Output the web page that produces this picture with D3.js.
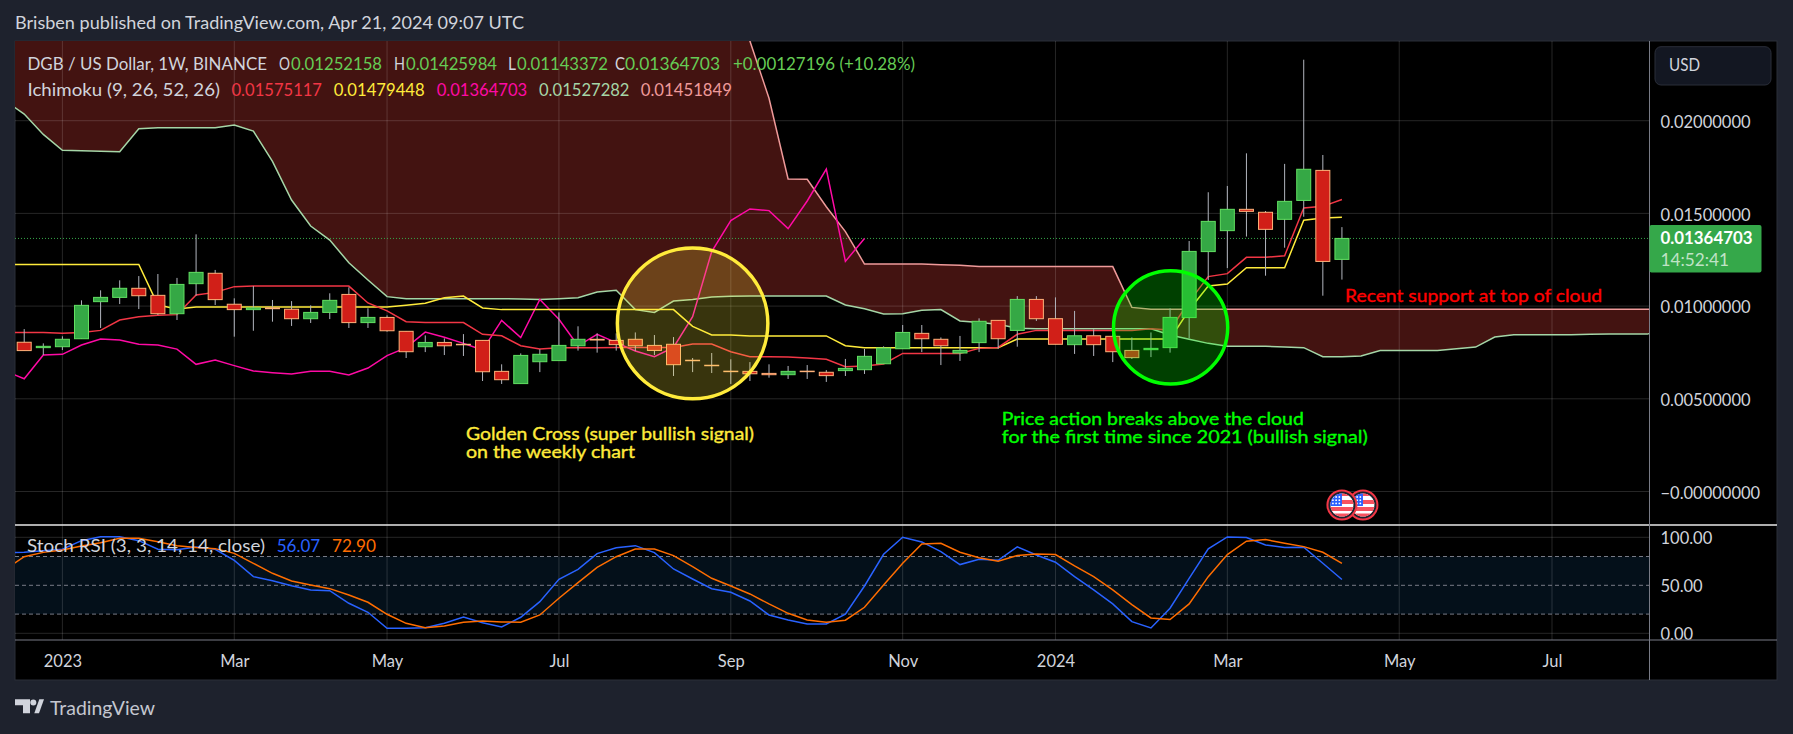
<!DOCTYPE html>
<html>
<head>
<meta charset="utf-8">
<script src="https://cdn.jsdelivr.net/npm/d3@7"></script>
<style>
  html, body { margin: 0; padding: 0; background: #1e222d; overflow: hidden; }
  text { font-family: "Lato", "Noto Sans", sans-serif; }
</style>
</head>
<body>
<script>
// All prices are in units of 0.00001 USD. Candles start at week -2,
// week 0 being the first week of 2023.
var firstCandleWeek = -2;
var opens = [805,776,781,824,1024,1047,1096,1058,959,1121,
  1177,1010,981,990,983,932,966,1063,911,939,
  864,781,804,794,815,648,582,700,706,786,
  821,815,821,788,794,708,681,649,648,637,
  630,649,643,652,657,689,770,853,821,747,
  803,923,869,1036,932,792,840,837,761,765,
  776,938,1294,1407,1522,1506,1468,1570,1732,1252];
var highs = [876,799,837,1031,1085,1139,1162,1173,1152,1387,
  1195,1042,1108,1033,1027,1004,1069,1101,988,950,
  864,842,826,849,815,686,745,767,966,891,
  853,853,858,844,833,720,747,713,698,686,
  677,682,655,715,769,783,898,898,831,839,
  934,923,1054,1054,1047,974,875,853,831,858,
  988,1351,1614,1648,1824,1513,1767,2329,1815,1426];
var lows = [760,736,763,824,882,1011,984,952,925,1056,
  1006,835,867,916,893,909,930,882,882,862,
  720,752,736,731,596,580,582,644,706,760,
  749,760,758,736,623,644,639,580,596,614,
  607,607,591,623,634,689,770,752,682,704,
  752,770,781,920,794,742,731,698,715,725,
  749,826,1141,1205,1375,1164,1315,1482,1056,1143];
var closes = [760,783,821,1004,1047,1096,1056,959,1117,1182,
  1035,981,990,986,932,966,1031,911,939,867,
  754,804,786,792,646,603,734,740,788,821,
  817,792,786,761,684,706,679,647,635,630,
  648,647,625,664,729,774,858,824,786,761,
  918,824,1036,932,794,840,792,754,722,772,
  939,1295,1457,1522,1511,1414,1565,1738,1241,1365];

// Ichimoku lines start one week earlier, they run off the left edge
var firstLineWeek = -3;
var tenkan = [858,858,858,853,857,869,925,943,950,954,
  1060,1074,1105,1108,1108,1108,1108,1108,1108,1017,
  974,916,911,911,911,848,840,786,768,776,
  776,776,777,777,777,777,795,795,754,727,
  727,725,720,713,673,677,688,745,745,745,
  745,772,777,848,869,869,869,869,869,869,
  878,871,1024,1159,1175,1263,1263,1272,1529,1538,1575];
var kijun = [1225,1225,1225,1225,1225,1225,1225,1225,1006,984,
  995,995,995,995,995,995,995,995,995,995,
  995,1004,1015,1045,1054,990,981,981,981,981,
  981,981,981,981,981,981,891,844,844,839,
  839,839,839,839,786,776,776,776,776,776,
  776,776,776,822,822,822,822,822,822,822,
  822,822,979,1108,1119,1207,1207,1207,1463,1475,1479];
var chikou = [650,608,736,740,790,823,817,794,790,768,
  686,709,679,650,641,634,648,648,628,666,
  733,776,860,832,799,763,923,830,1036,929,
  786,848,803,758,727,777,943,1294,1461,1524,
  1515,1418,1567,1739,1241,1365];
var senkouA = [2108,2036,1926,1840,1838,1835,1833,1957,1962,1962,
  1962,1962,1977,1944,1781,1572,1432,1356,1234,1141,
  1051,1040,1040,1040,1040,1040,1040,1038,1036,1040,
  1045,1076,1085,981,966,1027,1036,1049,1053,1054,
  1054,1054,1054,1054,1006,986,957,959,977,981,
  920,912,902,880,878,878,878,878,878,878,
  878,844,821,799,783,783,783,779,776,727,
  727,731,761,761,761,761,770,779,833,846,
  846,846,846,848,849,849,849,880];
// the first weeks of this one are above the top of the chart
var senkouB = [3200,3200,3200,3200,3200,3200,3200,3200,3200,3200,
  3200,3200,3200,3200,3200,3200,3200,3200,3200,3200,
  3200,3200,3200,3200,3200,3200,3200,3200,3200,3200,
  3200,3200,3200,3200,3200,3200,3200,3200,2900,2430,
  2121,1686,1684,1536,1402,1227,1227,1227,1227,1223,
  1220,1213,1213,1213,1213,1213,1213,1213,1213,993,
  983,983,983,983,983,983,983,983,983,983,
  983,983,983,983,983,983,983,983,983,983,
  983,983,983,983,983,983,983,983];

var stochK = [84,84.3,86,87.5,96.5,100.6,100.6,96.5,87.5,87,
  90,87.5,76,59,54.8,49.6,45,44.4,31.3,21.9,
  5.2,5.2,5.9,10.4,17,11,6.6,16.7,33,56.2,
  66.6,83,89.2,91.3,84,67,56.6,46.5,42.7,33.7,
  19.1,13.9,9.7,9.7,19.8,49.3,82.3,100,95.2,85.1,
  71.6,77.1,76.1,90,81.6,74,59,45.2,30.6,12.2,
  5.6,26.1,57.3,87.9,100.4,99.7,92,89.3,89.6,73,56.07];
var stochD = [66.6,79.8,84.3,86.8,91,94.4,98.9,98.9,95.4,91.3,
  89.5,88.2,83.3,72.9,62.5,54.5,50.3,46.5,39.9,32.3,
  19.8,10.4,5.9,7.7,11.5,12.9,11.8,11.5,19.1,36.5,
  52.8,68.7,79.8,87.8,87.8,80.9,69.4,57.3,49.3,41,
  30.6,20.8,13.9,11.5,13.6,27.1,50.3,73,93,93.8,
  84.4,78.8,75,81,82.7,82,70.2,59,45.2,29.9,
  16,14.3,30.6,59,82,95.9,97.6,93.8,90.3,84.4,72.9];

var priceTicks = [0, 500, 1000, 1500, 2000];
var priceTickLabels = ["\u22120.00000000", "0.00500000", "0.01000000", "0.01500000", "0.02000000"];
var stochTicks = [0, 50, 100];
var stochLevels = [20, 50, 80];
var timeTicks = [0, 9, 17, 26, 35, 44, 52, 61, 70, 78];
var timeTickLabels = ["2023", "Mar", "May", "Jul", "Sep", "Nov", "2024", "Mar", "May", "Jul"];
var lastPrice = 1365;

// Page layout
var w = 1793, h = 734;
var left = 15, right = 1649.5, outerRight = 1777, top_ = 41, bottom = 680;
var paneSplit = 525, axisTop = 640;

var x = d3.scaleLinear().domain([0, 78]).range([62.4, 1552]);
var y = d3.scaleLinear().domain([0, 2000]).range([491.5, 120.7]);
var yStoch = d3.scaleLinear().domain([0, 100]).range([633.3, 537.3]);

var svg = d3.select("body").append("svg").attr("width", w).attr("height", h)
  .style("display", "block");

svg.append("rect").attr("x", left).attr("y", top_)
  .attr("width", outerRight - left).attr("height", bottom - top_)
  .attr("fill", "#000").attr("stroke", "#2a2e39");

var defs = svg.append("defs");
defs.append("clipPath").attr("id", "pricePane").append("rect")
  .attr("x", left).attr("y", top_).attr("width", right - left).attr("height", paneSplit - top_);
defs.append("clipPath").attr("id", "stochPane").append("rect")
  .attr("x", left).attr("y", paneSplit).attr("width", right - left).attr("height", axisTop - paneSplit);

var price = svg.append("g").attr("clip-path", "url(#pricePane)");
var stoch = svg.append("g").attr("clip-path", "url(#stochPane)");

function lineWeeks(values, first) {
  return values.map(function(v, i) { return {week: first + i, v: v}; });
}

// Text placed to a width, the original font is not installed
function fitText(parent, str, px, py, width, size, color) {
  return parent.append("text").attr("x", px).attr("y", py).attr("fill", color)
    .attr("font-size", size).attr("textLength", width)
    .attr("lengthAdjust", "spacingAndGlyphs").text(str);
}

//==============================================
// Cloud first, grid goes over it so it shows through

var cloud = senkouA.map(function(v, i) {
  return {week: firstLineWeek + i, a: v, b: senkouB[i]};
});
price.append("path").datum(cloud)
  .attr("fill", "#431311")
  .attr("d", d3.area()
    .x(function(d) { return x(d.week); })
    .y0(function(d) { return y(d.a); })
    .y1(function(d) { return y(d.b); }));

var gridColor = "rgba(255,255,255,0.15)";
price.selectAll("line.h").data(priceTicks).enter().append("line")
  .attr("x1", left).attr("x2", right)
  .attr("y1", function(d) { return y(d); }).attr("y2", function(d) { return y(d); })
  .attr("stroke", gridColor);
price.selectAll("line.v").data(timeTicks).enter().append("line")
  .attr("x1", function(d) { return x(d); }).attr("x2", function(d) { return x(d); })
  .attr("y1", top_).attr("y2", paneSplit)
  .attr("stroke", gridColor);

price.append("line").attr("x1", left).attr("x2", right)
  .attr("y1", y(lastPrice)).attr("y2", y(lastPrice))
  .attr("stroke", "#35a84a").attr("stroke-dasharray", "1 2");

//==============================================
// Ichimoku lines

var ichimoku = [
  {values: senkouA, color: "#a5d6a7"},
  {values: senkouB, color: "#ef9a9a"},
  {values: chikou, color: "#ff0aa5"},
  {values: kijun, color: "#ffeb3b"},
  {values: tenkan, color: "#f23645"}
];
var weekLine = d3.line()
  .x(function(d) { return x(d.week); })
  .y(function(d) { return y(d.v); });
ichimoku.forEach(function(s) {
  price.append("path").datum(lineWeeks(s.values, firstLineWeek))
    .attr("fill", "none").attr("stroke", s.color).attr("stroke-width", 1.5)
    .attr("d", weekLine);
});

//==============================================
// Candles

var candles = opens.map(function(o, i) {
  return {week: firstCandleWeek + i, o: o, h: highs[i], l: lows[i], c: closes[i]};
});
var candleWidth = 14;
var candle = price.selectAll("g.candle").data(candles).enter().append("g");
candle.append("line")
  .attr("x1", function(d) { return x(d.week); }).attr("x2", function(d) { return x(d.week); })
  .attr("y1", function(d) { return y(d.h); }).attr("y2", function(d) { return y(d.l); })
  .attr("stroke", "#b2b5be").attr("stroke-width", 1);
candle.append("rect")
  .attr("x", function(d) { return x(d.week) - candleWidth / 2; })
  .attr("y", function(d) { return y(Math.max(d.o, d.c)); })
  .attr("width", candleWidth)
  .attr("height", function(d) { return Math.max(0.5, Math.abs(y(d.o) - y(d.c))); })
  .attr("fill", function(d) { return d.c >= d.o ? "#35a845" : "#d11f18"; })
  .attr("stroke", function(d) { return d.c >= d.o ? "#62e062" : "#ffb27a"; })
  .attr("stroke-width", 1);

//==============================================
// Drawn circles, center and radii in weeks and price

var circles = [
  {week: 33, price: 907, rWeeks: 3.94, rPrice: 407, color: "#ffeb3b", fillOpacity: 0.22},
  {week: 58.03, price: 885, rWeeks: 2.99, rPrice: 305, color: "#00ff00", fillOpacity: 0.25}
];
price.selectAll("ellipse.note").data(circles).enter().append("ellipse")
  .attr("cx", function(d) { return x(d.week); })
  .attr("cy", function(d) { return y(d.price); })
  .attr("rx", function(d) { return x(d.week + d.rWeeks) - x(d.week); })
  .attr("ry", function(d) { return y(d.price - d.rPrice) - y(d.price); })
  .attr("fill", function(d) { return d.color; })
  .attr("fill-opacity", function(d) { return d.fillOpacity; })
  .attr("stroke", function(d) { return d.color; })
  .attr("stroke-width", 3.5);

function note(str, px, py, width, color) {
  fitText(svg, str, px, py, width, 17, color)
    .attr("stroke", color).attr("stroke-width", 0.35);
}
note("Golden Cross (super bullish signal)", 466, 440, 288, "#ffeb3b");
note("on the weekly chart", 466, 458.3, 169, "#ffeb3b");
note("Price action breaks above the cloud", 1001.8, 425, 302, "#00ff00");
note("for the first time since 2021 (bullish signal)", 1001.8, 442.7, 366, "#00ff00");
note("Recent support at top of cloud", 1345, 301.7, 257, "#ff0000");

//==============================================
// Stochastic pane

stoch.append("rect").attr("x", left).attr("width", right - left)
  .attr("y", yStoch(80)).attr("height", yStoch(20) - yStoch(80))
  .attr("fill", "#04101a");
stoch.selectAll("line.h").data(stochTicks.filter(function(d) { return d != 50; })).enter().append("line")
  .attr("x1", left).attr("x2", right)
  .attr("y1", function(d) { return yStoch(d); }).attr("y2", function(d) { return yStoch(d); })
  .attr("stroke", gridColor);
stoch.selectAll("line.v").data(timeTicks).enter().append("line")
  .attr("x1", function(d) { return x(d); }).attr("x2", function(d) { return x(d); })
  .attr("y1", paneSplit).attr("y2", axisTop)
  .attr("stroke", gridColor);
stoch.selectAll("line.level").data(stochLevels).enter().append("line")
  .attr("x1", left).attr("x2", right)
  .attr("y1", function(d) { return yStoch(d); }).attr("y2", function(d) { return yStoch(d); })
  .attr("stroke", "#787b86").attr("stroke-dasharray", "4 3");

var stochLine = d3.line()
  .x(function(d) { return x(d.week); })
  .y(function(d) { return yStoch(d.v); });
stoch.append("path").datum(lineWeeks(stochK, firstLineWeek))
  .attr("fill", "none").attr("stroke", "#2962ff").attr("stroke-width", 1.5).attr("d", stochLine);
stoch.append("path").datum(lineWeeks(stochD, firstLineWeek))
  .attr("fill", "none").attr("stroke", "#ff6d00").attr("stroke-width", 1.5).attr("d", stochLine);

//==============================================
// Axes

var axisFont = 16.5, axisColor = "#d1d4dc";
function styleAxis(g) {
  g.select(".domain").remove();
  g.selectAll(".tick line").remove();
  g.selectAll("text").attr("fill", axisColor).attr("font-size", axisFont)
    .attr("font-family", "Lato");
}

svg.append("g").attr("transform", "translate(" + right + ",0)")
  .call(d3.axisRight(y).tickValues(priceTicks).tickFormat(function(d, i) { return priceTickLabels[i]; }))
  .call(styleAxis)
  .selectAll("text").attr("x", 11).attr("dy", "0.4em").attr("text-anchor", "start");
svg.append("g").attr("transform", "translate(" + right + ",0)")
  .call(d3.axisRight(yStoch).tickValues(stochTicks).tickFormat(function(d) { return d3.format(".2f")(d); }))
  .call(styleAxis)
  .selectAll("text").attr("x", 11).attr("dy", "0.4em").attr("text-anchor", "start");
svg.append("g").attr("transform", "translate(0," + axisTop + ")")
  .call(d3.axisBottom(x).tickValues(timeTicks).tickFormat(function(d, i) { return timeTickLabels[i]; }))
  .call(styleAxis)
  .selectAll("text").attr("y", 15);

// Pane separators
svg.append("line").attr("x1", left).attr("x2", outerRight).attr("y1", paneSplit).attr("y2", paneSplit)
  .attr("stroke", "#e8e8e8").attr("stroke-width", 1.5);
svg.append("line").attr("x1", left).attr("x2", outerRight).attr("y1", axisTop).attr("y2", axisTop)
  .attr("stroke", "#787b86");
svg.append("line").attr("x1", right).attr("x2", right).attr("y1", top_).attr("y2", bottom)
  .attr("stroke", "#787b86");

// Last price tag
svg.append("rect").attr("x", right).attr("y", y(lastPrice) - 13.5).attr("width", 112).attr("height", 47.5)
  .attr("rx", 2).attr("fill", "#35a84a");
fitText(svg, "0.01364703", right + 11, y(lastPrice) + 6, 92, axisFont, "#fff").attr("font-weight", 700);
fitText(svg, "14:52:41", right + 11, y(lastPrice) + 27.5, 68.5, axisFont, "rgba(255,255,255,0.7)");

// Currency button
svg.append("rect").attr("x", 1655).attr("y", 46.7).attr("width", 116).attr("height", 38.3).attr("rx", 6)
  .attr("fill", "#131722").attr("stroke", "#2a2e39");
fitText(svg, "USD", 1669, 71, 31, 16.5, axisColor);

//==============================================
// Header and legends

function legend(py, runs) {
  runs.forEach(function(r) {
    fitText(svg, r[1], r[0], py, r[3], 16.5, r[2]);
  });
}
var textColor = "#d1d4dc", upColor = "#66cc55";
legend(28.7, [[15, "Brisben published on TradingView.com, Apr 21, 2024 09:07 UTC", textColor, 509]]);
legend(69.5, [
  [27.5, "DGB / US Dollar, 1W, BINANCE", textColor, 239.5],
  [279, "O", textColor, 11], [291, "0.01252158", upColor, 91],
  [394, "H", textColor, 11], [406, "0.01425984", upColor, 91],
  [508, "L", textColor, 8], [517, "0.01143372", upColor, 91],
  [615, "C", textColor, 10], [625, "0.01364703", upColor, 95],
  [733, "+0.00127196 (+10.28%)", upColor, 182]
]);
legend(96, [
  [27.5, "Ichimoku (9, 26, 52, 26)", textColor, 192.5],
  [231.5, "0.01575117", "#f23645", 90.5],
  [333.7, "0.01479448", "#ffeb3b", 91],
  [436.7, "0.01364703", "#ff0aa5", 90.5],
  [539, "0.01527282", "#a5d6a7", 90.5],
  [640.7, "0.01451849", "#ef9a9a", 91.3]
]);
legend(552, [
  [27, "Stoch RSI (3, 3, 14, 14, close)", textColor, 238],
  [276.7, "56.07", "#2962ff", 43.5],
  [332, "72.90", "#ff6d00", 44]
]);

//==============================================
// Economic event flags under the last candles

var flagWeeks = [68.1, 67];
var flagY = 505;
flagWeeks.forEach(function(wk, n) {
  var cx = x(wk);
  var id = "flag" + n;
  defs.append("clipPath").attr("id", id).append("circle")
    .attr("cx", cx).attr("cy", flagY).attr("r", 11.5);
  var f = svg.append("g");
  f.append("circle").attr("cx", cx).attr("cy", flagY).attr("r", 14.5)
    .attr("fill", "#1e222d").attr("stroke", "#f23645").attr("stroke-width", 2);
  var inner = f.append("g").attr("clip-path", "url(#" + id + ")");
  inner.append("rect").attr("x", cx - 12).attr("y", flagY - 12).attr("width", 24).attr("height", 24).attr("fill", "#fff");
  inner.append("rect").attr("x", cx - 12).attr("y", flagY - 5).attr("width", 24).attr("height", 4).attr("fill", "#f7525f");
  inner.append("rect").attr("x", cx - 12).attr("y", flagY + 2).attr("width", 24).attr("height", 10).attr("fill", "#f7525f");
  inner.append("rect").attr("x", cx - 12).attr("y", flagY - 12).attr("width", 24).attr("height", 3).attr("fill", "#f7525f");
  inner.append("rect").attr("x", cx - 12).attr("y", flagY + 6).attr("width", 24).attr("height", 2.5).attr("fill", "#fff");
  inner.append("rect").attr("x", cx - 12).attr("y", flagY - 12).attr("width", 12).attr("height", 13).attr("fill", "#2962ff");
  for (var i = 0; i < 3; i++) {
    for (var j = 0; j < 3; j++) {
      inner.append("circle").attr("cx", cx - 9 + i * 3.2).attr("cy", flagY - 8 + j * 3.2)
        .attr("r", 0.9).attr("fill", "#fff");
    }
  }
});

//==============================================
// Logo

var logo = svg.append("g").attr("transform", "translate(15,699.3)").attr("fill", "#d1d4dc");
logo.append("path").attr("d", "M0 0H15V14H8V6H0Z");
logo.append("circle").attr("cx", 18.3).attr("cy", 3.3).attr("r", 3);
logo.append("path").attr("d", "M19.3 14L24.3 0H29L24 14Z");
fitText(svg, "TradingView", 50, 714.5, 105, 19, "#c4c7d0");
</script>
</body>
</html>
